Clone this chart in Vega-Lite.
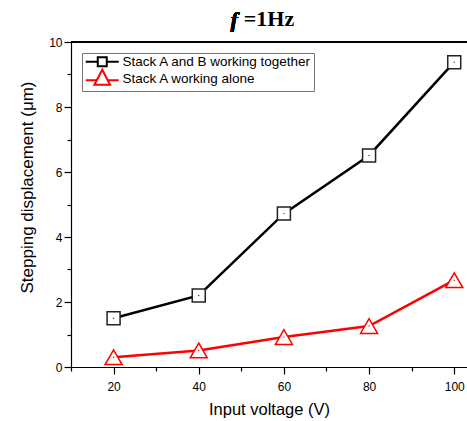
{
  "$schema": "https://vega.github.io/schema/vega-lite/v6.json",
  "autosize": {"type": "none"},
  "padding": {"left": 71, "top": 42, "right": 0, "bottom": 54},
  "width": 396,
  "height": 325,
  "background": "white",
  "title": {
    "text": "=1Hz",
    "font": "Liberation Serif",
    "fontSize": 22,
    "fontWeight": "bold",
    "color": "black",
    "anchor": "middle",
    "frame": "group",
    "dx": 0,
    "offset": -22
  },
  "data": {
    "values": [
      {"voltage": 20, "disp": 1.5, "series": "Stack A and B working together"},
      {"voltage": 40, "disp": 2.2, "series": "Stack A and B working together"},
      {"voltage": 60, "disp": 4.72, "series": "Stack A and B working together"},
      {"voltage": 80, "disp": 6.51, "series": "Stack A and B working together"},
      {"voltage": 100, "disp": 9.38, "series": "Stack A and B working together"},
      {"voltage": 20, "disp": 0.3, "series": "Stack A working alone"},
      {"voltage": 40, "disp": 0.51, "series": "Stack A working alone"},
      {"voltage": 60, "disp": 0.92, "series": "Stack A working alone"},
      {"voltage": 80, "disp": 1.26, "series": "Stack A working alone"},
      {"voltage": 100, "disp": 2.67, "series": "Stack A working alone"}
    ]
  },
  "encoding": {
    "x": {
      "field": "voltage",
      "type": "quantitative",
      "scale": {"domain": [10, 103], "nice": false, "zero": false},
      "axis": {
        "title": "Input voltage (V)",
        "values": [10, 20, 30, 40, 50, 60, 70, 80, 90, 100],
        "labelExpr": "datum.value % 20 === 0 ? datum.label : ''",
        "tickSize": {"condition": {"test": "datum.value % 20 === 0", "value": 7}, "value": 4},
        "labelPadding": 7,
        "titlePadding": 9,
        "titleFontSize": 16.5,
        "grid": false
      }
    },
    "y": {
      "field": "disp",
      "type": "quantitative",
      "scale": {"domain": [0, 10], "nice": false},
      "axis": {
        "title": "Stepping displacement (μm)",
        "values": [0, 1, 2, 3, 4, 5, 6, 7, 8, 9, 10],
        "labelExpr": "datum.value % 2 === 0 ? datum.label : ''",
        "tickSize": {"condition": {"test": "datum.value % 2 === 0", "value": 7}, "value": 4},
        "labelPadding": 2,
        "titlePadding": 12,
        "titleFontSize": 17,
        "titleY": 145,
        "grid": false
      }
    }
  },
  "layer": [
    {
      "mark": {"type": "rule", "color": "black", "strokeWidth": 1.2},
      "encoding": {"x": null, "y": {"datum": 10, "type": "quantitative"}}
    },
    {
      "mark": {"type": "text", "text": "f", "font": "Liberation Serif", "fontSize": 22, "fontWeight": "bold", "fontStyle": "italic", "color": "black", "align": "center", "baseline": "alphabetic", "clip": false},
      "encoding": {"x": {"datum": 48.3, "type": "quantitative"}, "y": {"datum": 10.45, "type": "quantitative"}}
    },
    {
      "mark": {"type": "line", "strokeWidth": 2.5},
      "encoding": {
        "color": {
          "field": "series",
          "type": "nominal",
          "scale": {"domain": ["Stack A and B working together", "Stack A working alone"], "range": ["black", "#ff0000"]},
          "legend": {
            "title": null,
            "orient": "top-left",
            "offset": 11,
            "padding": 2,
            "strokeColor": "#777777",
            "fillColor": "white",
            "labelFont": "Liberation Sans",
            "labelFontSize": 13.5,
            "labelColor": "black",
            "labelLimit": 400,
            "labelOffset": 25,
            "symbolSize": 100,
            "rowPadding": -6,
            "encode": {
              "symbols": {
                "update": {
                  "shape": [
                    {"test": "datum.value === 'Stack A working alone'", "value": "M-1,0.3H1.2M3.4,0.3H5.6M2.3,-1.8L3.87,1.2L0.73,1.2Z"},
                    {"value": "M-1,0H1.4M3.2,0H5.6M1.4,-0.9H3.2V0.9H1.4Z"}
                  ],
                  "fill": {"value": "white"},
                  "fillOpacity": {"value": 1},
                  "strokeWidth": {"value": 2}
                }
              }
            }
          }
        }
      }
    },
    {
      "transform": [{"filter": "datum.series === 'Stack A and B working together'"}],
      "layer": [
        {"mark": {"type": "point", "shape": "square", "size": 169, "filled": false, "fill": "white", "fillOpacity": 1, "stroke": "#222222", "strokeWidth": 1.5, "opacity": 1}},
        {"mark": {"type": "point", "shape": "circle", "size": 2, "filled": true, "color": "#333333", "opacity": 1}}
      ]
    },
    {
      "transform": [{"filter": "datum.series === 'Stack A working alone'"}],
      "layer": [
        {"mark": {"type": "point", "shape": "triangle-up", "size": 289, "filled": false, "fill": "white", "fillOpacity": 1, "stroke": "#ff0000", "strokeWidth": 1.5, "opacity": 1}},
        {"mark": {"type": "point", "shape": "circle", "size": 2, "filled": true, "color": "#ff0000", "opacity": 1}}
      ]
    }
  ],
  "config": {
    "view": {"stroke": null},
    "axis": {
      "domainColor": "black",
      "domainWidth": 1.2,
      "tickColor": "black",
      "tickWidth": 1.2,
      "labelColor": "black",
      "labelFont": "Liberation Sans",
      "labelFontSize": 12,
      "titleFont": "Liberation Sans",
      "titleFontSize": 16,
      "titleFontWeight": "normal",
      "titleColor": "black"
    }
  }
}
